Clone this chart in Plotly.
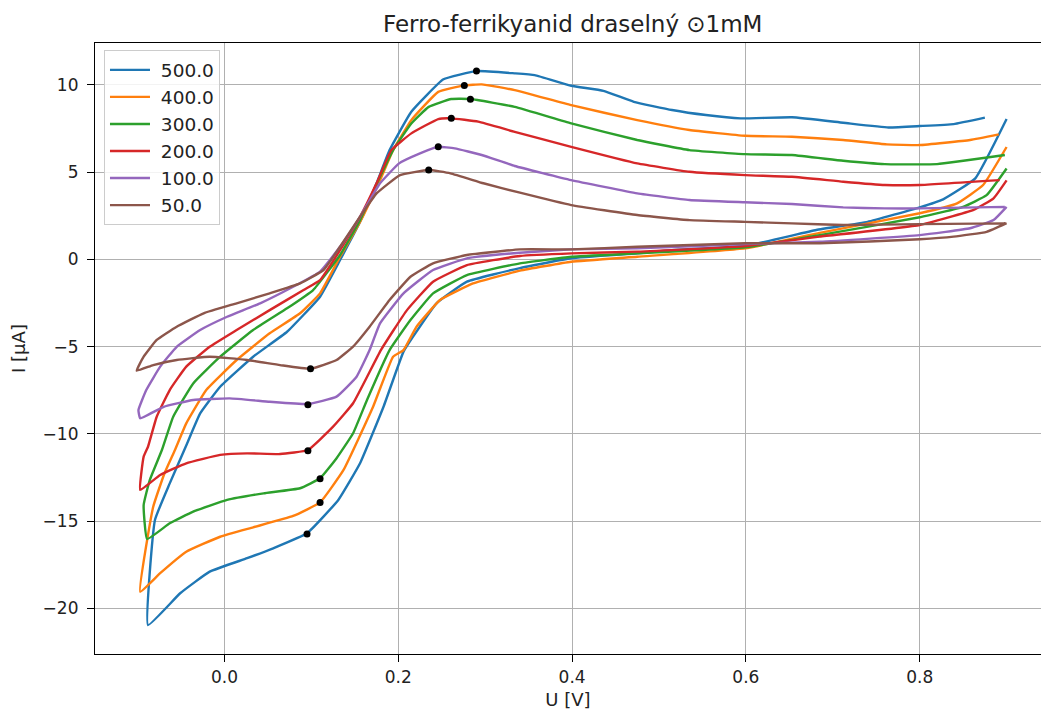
import plotly.graph_objects as go

# scan rates (legend labels)
labels = ["500.0", "400.0", "300.0", "200.0", "100.0", "50.0"]
colors = ["#1f77b4", "#ff7f0e", "#2ca02c", "#d62728", "#9467bd", "#8c564b"]

U_500 = [0.900, 0.864, 0.827, 0.800, 0.740, 0.681, 0.600, 0.515, 0.475, 0.399, 0.340, 0.279, 0.244, 0.217, 0.206, 0.183, 0.156, 0.131, 0.095, 0.056, 0.026, -0.017, -0.051, -0.088,
         -0.080, -0.063, -0.043, -0.028, -0.005, 0.033, 0.072, 0.110, 0.133, 0.156, 0.175, 0.190, 0.215, 0.252, 0.290, 0.334, 0.357, 0.399, 0.436, 0.471, 0.515, 0.554, 0.594, 0.653, 0.712, 0.764, 0.800, 0.839, 0.875]
I_500 = [8.04, 4.64, 3.44, 2.98, 2.15, 1.68, 0.78, 0.53, 0.34, 0.06, -0.50, -1.28, -2.52, -4.43, -5.29, -8.45, -11.69, -13.79, -15.70, -16.56, -17.13, -17.90, -19.14, -20.96,
         -14.94, -12.84, -10.55, -8.83, -7.30, -5.58, -4.15, -2.14, -0.04, 2.15, 4.36, 6.26, 8.46, 10.32, 10.79, 10.66, 10.56, 9.95, 9.66, 9.03, 8.56, 8.27, 8.08, 8.14, 7.83, 7.56, 7.64, 7.75, 8.12]

U_400 = [0.900, 0.873, 0.843, 0.800, 0.685, 0.599, 0.475, 0.399, 0.340, 0.286, 0.248, 0.221, 0.206, 0.194, 0.171, 0.137, 0.110, 0.079, 0.033, -0.005, -0.044, -0.074, -0.097,
         -0.082, -0.069, -0.057, -0.044, -0.021, 0.014, 0.052, 0.087, 0.110, 0.133, 0.156, 0.179, 0.194, 0.215, 0.246, 0.276, 0.296, 0.334, 0.399, 0.475, 0.535, 0.599, 0.653, 0.712, 0.762, 0.800, 0.858, 0.891]
I_400 = [6.44, 4.26, 3.21, 2.64, 1.52, 0.63, 0.15, -0.14, -0.65, -1.38, -2.33, -3.86, -5.20, -5.58, -8.45, -12.07, -13.93, -14.71, -15.36, -15.90, -16.76, -17.99, -19.05,
         -14.18, -12.26, -10.93, -9.40, -7.49, -5.77, -4.24, -3.09, -1.95, 0.15, 2.15, 4.54, 6.26, 7.98, 9.60, 9.97, 10.03, 9.70, 8.84, 7.98, 7.41, 7.08, 7.03, 6.84, 6.59, 6.55, 6.84, 7.16]

U_300 = [0.900, 0.877, 0.850, 0.800, 0.685, 0.599, 0.475, 0.399, 0.340, 0.279, 0.240, 0.214, 0.190, 0.164, 0.148, 0.129, 0.110, 0.087, 0.045, 0.003, -0.036, -0.063, -0.089,
         -0.093, -0.086, -0.072, -0.059, -0.036, -0.005, 0.033, 0.072, 0.102, 0.133, 0.156, 0.179, 0.194, 0.215, 0.235, 0.261, 0.283, 0.334, 0.399, 0.475, 0.535, 0.599, 0.653, 0.712, 0.760, 0.820, 0.898]
I_300 = [5.21, 3.68, 3.01, 2.41, 1.39, 0.69, 0.34, 0.15, -0.23, -0.90, -1.95, -3.48, -5.20, -8.06, -9.97, -11.40, -12.55, -13.12, -13.41, -13.79, -14.46, -15.13, -16.03,
         -14.08, -12.65, -10.93, -9.02, -7.11, -5.58, -4.05, -2.81, -1.76, 0.25, 2.25, 4.73, 6.26, 7.79, 8.74, 9.19, 9.19, 8.74, 7.79, 6.84, 6.26, 6.03, 5.98, 5.65, 5.46, 5.46, 5.98]

U_200 = [0.900, 0.885, 0.862, 0.800, 0.685, 0.599, 0.475, 0.399, 0.340, 0.279, 0.240, 0.210, 0.180, 0.148, 0.125, 0.096, 0.064, 0.026, -0.005, -0.044, -0.074, -0.097,
         -0.093, -0.088, -0.078, -0.063, -0.044, -0.017, 0.014, 0.052, 0.091, 0.110, 0.133, 0.156, 0.175, 0.192, 0.215, 0.246, 0.261, 0.292, 0.334, 0.399, 0.475, 0.535, 0.599, 0.653, 0.712, 0.760, 0.800, 0.892]
I_200 = [4.53, 3.50, 2.83, 1.97, 1.30, 0.76, 0.44, 0.34, 0.19, -0.33, -1.28, -2.91, -5.20, -8.25, -9.59, -10.93, -11.16, -11.12, -11.21, -11.69, -12.36, -13.22,
         -11.31, -10.74, -9.02, -7.49, -6.15, -5.01, -4.05, -2.91, -1.76, -1.19, 0.53, 2.44, 4.36, 6.26, 7.22, 8.04, 8.08, 7.89, 7.31, 6.45, 5.50, 5.02, 4.83, 4.73, 4.45, 4.26, 4.26, 4.54]

U_100 = [0.900, 0.885, 0.858, 0.800, 0.685, 0.599, 0.475, 0.399, 0.340, 0.279, 0.240, 0.206, 0.179, 0.167, 0.152, 0.129, 0.096, 0.052, 0.006, -0.036, -0.070, -0.097,
         -0.099, -0.090, -0.074, -0.055, -0.028, 0.003, 0.041, 0.079, 0.110, 0.133, 0.156, 0.179, 0.201, 0.225, 0.246, 0.265, 0.296, 0.334, 0.399, 0.475, 0.535, 0.599, 0.653, 0.712, 0.760, 0.800, 0.898]
I_100 = [3.01, 2.25, 1.78, 1.39, 1.01, 0.88, 0.63, 0.57, 0.38, 0.06, -0.61, -1.95, -3.67, -5.20, -6.73, -7.87, -8.29, -8.16, -7.97, -8.06, -8.45, -9.11,
         -8.64, -7.49, -6.15, -5.01, -4.05, -3.29, -2.52, -1.57, -0.70, 0.72, 2.44, 4.36, 5.50, 6.07, 6.45, 6.36, 5.98, 5.35, 4.54, 3.78, 3.40, 3.27, 3.17, 2.98, 2.92, 2.92, 3.01]

U_50 = [0.900, 0.877, 0.839, 0.800, 0.685, 0.599, 0.475, 0.399, 0.340, 0.279, 0.240, 0.214, 0.190, 0.167, 0.148, 0.129, 0.099, 0.064, 0.026, -0.017, -0.055, -0.082, -0.101,
        -0.093, -0.078, -0.055, -0.024, 0.014, 0.052, 0.087, 0.114, 0.133, 0.156, 0.175, 0.202, 0.235, 0.260, 0.298, 0.340, 0.399, 0.475, 0.535, 0.599, 0.653, 0.712, 0.800, 0.898]
I_50 = [2.08, 1.58, 1.30, 1.15, 0.92, 0.92, 0.72, 0.57, 0.57, 0.25, -0.23, -1.00, -2.33, -3.86, -5.00, -5.77, -6.27, -6.06, -5.77, -5.58, -5.77, -6.06, -6.38,
        -5.58, -4.62, -3.86, -3.09, -2.52, -1.95, -1.38, -0.61, 0.72, 2.44, 3.78, 4.83, 5.12, 4.93, 4.36, 3.82, 3.11, 2.54, 2.25, 2.15, 2.06, 1.97, 2.02, 2.06]

# marked peaks (anodic and cathodic)
peak_U_anodic = [0.290, 0.276, 0.283, 0.261, 0.246, 0.235]
peak_I_anodic = [10.79, 9.97, 9.18, 8.08, 6.45, 5.12]
peak_U_cathodic = [0.095, 0.110, 0.110, 0.096, 0.096, 0.099]
peak_I_cathodic = [-15.74, -13.93, -12.57, -10.97, -8.33, -6.27]

series_U = [U_500, U_400, U_300, U_200, U_100, U_50]
series_I = [I_500, I_400, I_300, I_200, I_100, I_50]

FONT = "DejaVu Sans"
TXT = "#222222"
fig = go.Figure()
for lab, col, u, i in zip(labels, colors, series_U, series_I):
    fig.add_trace(go.Scatter(x=u, y=i, mode="lines", name="\u00a0" + lab,
                             line=dict(color=col, width=2.4, shape="spline", smoothing=0.35)))

fig.add_trace(go.Scatter(x=peak_U_anodic + peak_U_cathodic,
                         y=peak_I_anodic + peak_I_cathodic,
                         mode="markers", showlegend=False,
                         marker=dict(color="black", size=7)))

fig.update_layout(
    width=1041, height=711,
    margin=dict(l=95, r=0, t=43, b=57),
    paper_bgcolor="white", plot_bgcolor="white",
    font=dict(family=FONT, size=17, color=TXT),
    title=dict(text="Ferro-ferrikyanid draselný ⊙1mM", x=0.505, xref="paper",
               xanchor="center", y=1 - 24 / 711, yanchor="middle",
               font=dict(family=FONT, size=23, color=TXT)),
    showlegend=True,
    legend=dict(x=0.0095, y=0.988, xanchor="left", yanchor="top",
                bgcolor="rgba(255,255,255,0.85)", bordercolor="#cccccc", borderwidth=1,
                font=dict(family=FONT, size=18.5, color=TXT),
                tracegroupgap=0, itemwidth=40),
    xaxis=dict(range=[-0.149, 0.9396], tickvals=[0.0, 0.2, 0.4, 0.6, 0.8],
               ticktext=["0.0", "0.2", "0.4", "0.6", "0.8"],
               showgrid=True, gridcolor="#b0b0b0", gridwidth=1,
               zeroline=False, showline=True, linecolor="black", linewidth=1.2,
               mirror=True, ticks="outside", ticklen=7, tickcolor="black",
               tickfont=dict(size=17),
               title=dict(text="U [V]", font=dict(size=18), standoff=7)),
    yaxis=dict(range=[-22.62, 12.40], tickvals=[-20, -15, -10, -5, 0, 5, 10],
               showgrid=True, gridcolor="#b0b0b0", gridwidth=1,
               zeroline=False, showline=True, linecolor="black", linewidth=1.2,
               ticks="outside", ticklen=7, tickcolor="black", ticklabelstandoff=5,
               tickfont=dict(size=17),
               title=dict(text="I [µA]", font=dict(size=18), standoff=12)),
)

fig.write_html("out.html")
